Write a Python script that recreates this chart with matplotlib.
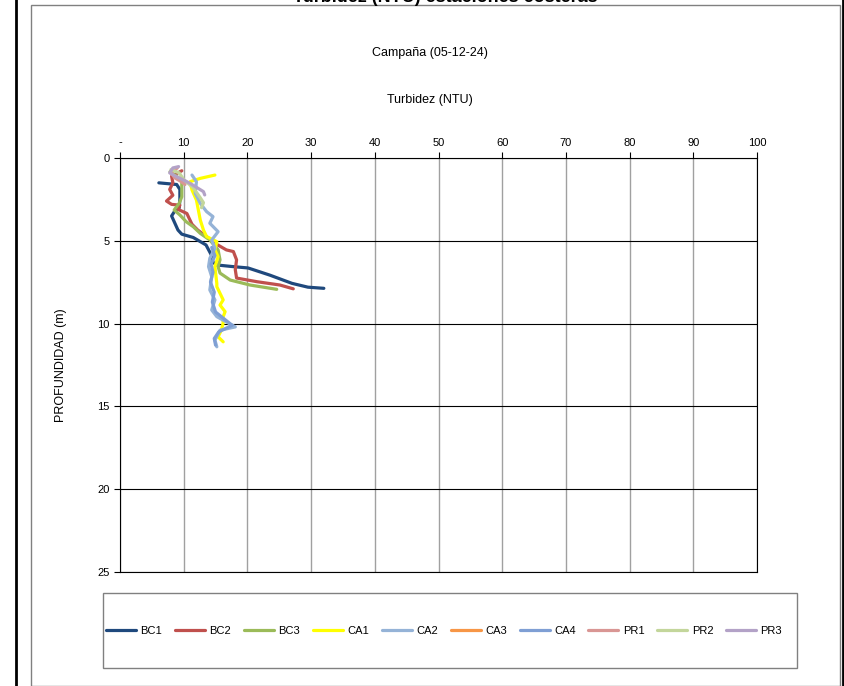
import matplotlib
matplotlib.use("Agg")
import matplotlib.pyplot as plt
from matplotlib.lines import Line2D
from matplotlib.patches import Rectangle

plt.rcParams["font.family"] = ["Liberation Sans", "DejaVu Sans"]

# turbidez (NTU) vs profundidad (m)
bc1_x = [6.1, 8.9, 9.4, 9.4, 9.3, 8.6, 8.1, 9.1, 9.7, 11.5, 13.5, 14.4, 14.6, 15.2, 17.5, 20.1, 23.5, 27.0, 29.5, 32.0]
bc1_y = [1.5, 1.6, 1.9, 2.5, 3.0, 3.2, 3.5, 4.35, 4.6, 4.8, 5.25, 5.9, 6.3, 6.46, 6.55, 6.64, 7.07, 7.57, 7.8, 7.87]
bc2_x = [9.7, 8.1, 8.3, 7.8, 8.3, 7.3, 8.1, 9.4, 9.1, 10.5, 10.8, 11.3, 12.2, 13.6, 14.9, 16.7, 17.8, 18.3, 18.1, 18.3, 21.5, 25.1, 27.2]
bc2_y = [0.77, 1.1, 1.5, 1.9, 2.25, 2.6, 2.8, 2.85, 3.1, 3.35, 3.6, 4.0, 4.35, 4.75, 5.15, 5.55, 5.65, 6.15, 6.75, 7.25, 7.47, 7.67, 7.9]
bc3_x = [7.85, 9.7, 9.7, 9.3, 8.5, 9.4, 10.4, 11.5, 12.6, 14.1, 15.4, 15.7, 15.4, 15.7, 17.3, 20.4, 24.6]
bc3_y = [0.83, 1.33, 2.34, 2.73, 3.14, 3.44, 3.85, 4.15, 4.55, 4.95, 5.55, 6.15, 6.56, 6.95, 7.37, 7.67, 7.93]
ca1_x = [14.9, 12.6, 11.0, 11.3, 12.0, 12.3, 12.6, 13.1, 13.6, 15.2, 14.9, 15.4, 14.9, 15.2, 15.2, 16.2, 15.7, 16.5, 16.1, 16.2, 15.9, 15.4, 16.2]
ca1_y = [1.03, 1.23, 1.43, 1.93, 2.54, 3.14, 3.74, 4.35, 4.75, 5.05, 5.55, 5.96, 6.56, 7.57, 7.77, 8.57, 8.88, 9.28, 9.68, 9.96, 10.4, 10.8, 11.1]
ca2_x = [11.3, 12.0, 11.8, 12.6, 13.6, 14.6, 14.1, 15.4, 14.4, 14.9, 14.1, 13.9, 14.4, 14.1, 14.9, 14.4, 15.2, 18.1, 15.7, 14.9, 15.2]
ca2_y = [1.03, 1.43, 2.13, 2.74, 3.24, 3.54, 3.94, 4.45, 4.95, 5.45, 6.06, 6.56, 7.17, 7.97, 8.57, 9.18, 9.58, 10.2, 10.4, 11.0, 11.4]
ca3_x = []
ca3_y = []
ca4_x = [14.4, 14.9, 14.3, 14.6, 14.2, 14.8, 14.5, 15.0, 17.6, 15.5, 14.8, 15.0]
ca4_y = [5.4, 5.9, 6.4, 6.9, 7.5, 8.1, 8.7, 9.3, 10.1, 10.5, 10.9, 11.3]
pr1_x = [9.0, 8.0, 8.6, 9.5, 10.2]
pr1_y = [0.6, 0.9, 1.2, 1.4, 1.6]
pr2_x = [8.0, 9.3, 10.0, 11.5, 12.6, 13.1, 12.8]
pr2_y = [0.7, 0.9, 1.3, 1.8, 2.4, 2.7, 3.0]
pr3_x = [9.2, 8.3, 7.8, 8.9, 11.0, 13.1, 13.3]
pr3_y = [0.52, 0.6, 0.9, 1.13, 1.53, 2.03, 2.23]

names = ["BC1", "BC2", "BC3", "CA1", "CA2", "CA3", "CA4", "PR1", "PR2", "PR3"]
colors = ["#1F497D", "#C0504D", "#9BBB59", "#FFFF00", "#95B3D7",
          "#F79646", "#7F9FD4", "#D99694", "#C3D69B", "#B3A2C7"]
series = [(bc1_x, bc1_y), (bc2_x, bc2_y), (bc3_x, bc3_y), (ca1_x, ca1_y), (ca2_x, ca2_y),
          (ca3_x, ca3_y), (ca4_x, ca4_y), (pr1_x, pr1_y), (pr2_x, pr2_y), (pr3_x, pr3_y)]
xticks = list(range(0, 101, 10))
xtick_labels = ["-"] + [str(t) for t in xticks[1:]]
yticks = [0, 5, 10, 15, 20, 25]

fig = plt.figure(figsize=(8.44, 6.86), dpi=100)
W, H = 844, 686

def fx(px):
    return px / W

def fy(py):
    return 1 - py / H

# page borders and chart frame
fig.add_artist(Line2D([fx(16), fx(16)], [0, 1], color="black", lw=2))
fig.add_artist(Line2D([fx(843), fx(843)], [0, 1], color="black", lw=2))
fig.add_artist(Rectangle((fx(31), 0), fx(840) - fx(31), fy(5), fill=False,
                         edgecolor="#808080", lw=1))
# page title, mostly outside the cropped image
fig.text(fx(445), fy(2), "Turbidez (NTU) estaciones costeras", ha="center",
         va="baseline", fontsize=13, fontweight="bold")

ax = fig.add_axes([fx(120), fy(572), fx(757) - fx(120), fy(158) - fy(572)])
for (x, y), c, n in zip(series, colors, names):
    ax.plot(x, y, color=c, lw=2.3, label=n, solid_capstyle="round")

ax.set_xlim(0, 100)
ax.set_ylim(25, 0)
ax.set_xticks(xticks)
ax.set_xticklabels(xtick_labels)
ax.set_yticks(yticks)
ax.xaxis.tick_top()
ax.tick_params(labelsize=8, length=4, color="black")
ax.grid(axis="x", color="#a0a0a0", lw=1)
ax.grid(axis="y", color="black", lw=0.8)
for s in ax.spines.values():
    s.set_color("black")
    s.set_linewidth(0.8)
ax.set_axisbelow(True)
ax.set_ylabel("PROFUNDIDAD (m)", fontsize=9, labelpad=22)

fig.text(fx(430), fy(53), "Campaña (05-12-24)", ha="center", va="center", fontsize=9)
fig.text(fx(430), fy(100), "Turbidez (NTU)", ha="center", va="center", fontsize=9)

# legend box
fig.add_artist(Rectangle((fx(103), fy(668)), fx(797) - fx(103), fy(593) - fy(668),
                         fill=False, edgecolor="#808080", lw=1))
handles, labels = ax.get_legend_handles_labels()
fig.legend(handles, labels, loc="center", bbox_to_anchor=(fx(444), fy(631)), ncol=10,
           frameon=False, fontsize=8, handlelength=2.7, handletextpad=0.4,
           columnspacing=1.15)

fig.savefig("out.png", dpi=100)
